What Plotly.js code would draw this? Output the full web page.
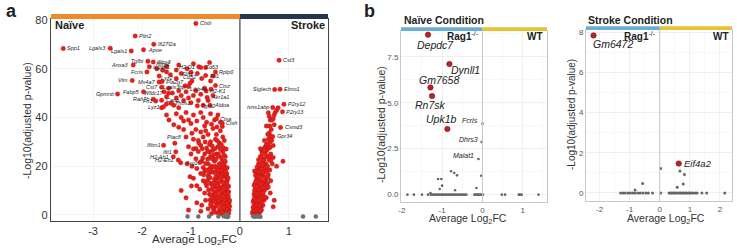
<!DOCTYPE html>
<html><head><meta charset="utf-8">
<script src="https://cdn.plot.ly/plotly-3.0.1.min.js"></script>
<style>html,body{margin:0;padding:0;background:#fff}#chart{width:737px;height:249px}</style>
</head><body><div id="chart"></div>
<script>
// ---------- Panel a : labelled genes (Naive side) ----------
const naiveLabGenes = ['Spp1','Lgals3','Lgals1','Plin2','Ifi27l2a','Apoe','Anxa3','Tgfbi','Ifitm3','Fcrls','Iqgap1','Ifitm2','H2-D1','Cd63','Rplp0','Ftl1','Fth1','Lyz2','Cd52','Lgals3bp','Ctsz','Lilrb4a','H2-K1','Akr1a1','Cst7','Pla2g7','Ms4a7','Vim','Fabp5','Wfdc17','Rab7b','Fn1','Capg','Lyz1','Thbs1','Tgm2','Aldoa','Ctsa','Ctsh','Ifitm1','Plac8','Ifit1','H2-Ab1','H2-Eb1','Arg1','Ctsb','Gpnmb'];
const naiveLabX = [-3.61,-2.65,-2.22,-2.14,-1.76,-1.97,-2.18,-1.88,-1.77,-1.9,-1.85,-1.58,-0.84,-0.8,-0.5,-0.7,-0.87,-1.5,-1.02,-1.05,-0.5,-0.59,-0.69,-0.67,-1.6,-1.59,-1.65,-2.2,-1.97,-1.46,-1.77,-1.72,-1.6,-1.56,-1.41,-0.87,-0.61,-0.48,-0.36,-1.56,-1.33,-1.31,-1.36,-1.26,-1.21,-0.9,-2.5];
const naiveLabY = [68.3,68.4,67.3,73.4,70,67.8,61.5,63.1,62.8,58.7,60.8,59.4,60.8,60.5,58.7,57.2,58,58.8,54,52.7,53.1,51.6,50.9,48.2,52.4,54.7,54.5,55.2,50.5,49.9,47.5,46.7,47.1,44.4,45.8,44.8,45,39.5,37.6,28.6,29.4,25.9,23.9,22.5,21.4,78.6,49.6];

// ---------- Panel a : other significant genes (Naive side) ----------
const naiveRedX = [-1.55,-1.5,-1.45,-1.38,-1.3,-1.25,-1.2,-1.15,-1.1,-1.05,-1.0,-0.95,-0.9,-0.85,-0.8,-0.75,-0.72,-0.65,-0.55,-1.35,-1.25,-1.5,-1.6,-1.12,-0.98,-1.3,-1.42,-1.2,-1.0,-0.78,-0.6,-0.55,-1.65,-1.7,-1.5,-1.25,-1.3,-1.08,-0.95,-0.7,-0.62,
 -1.5,-1.45,-1.3,-1.2,-1.1,-1.05,-0.95,-0.88,-0.8,-0.75,-0.68,-0.6,-0.52,-0.45,-0.4,-1.35,-1.25,-1.15,-1.0,-0.9,-0.8,-0.72,-0.65,-0.55,-0.48,-0.4,-0.35,-1.1,-0.95,-0.85,-0.75,-0.6,-0.5,-0.42,-0.32,
 -1.05,-1.0,-0.95,-0.9,-0.85,-0.8,-0.78,-0.72,-0.68,-0.65,-0.6,-0.56,-0.52,-0.48,-0.45,-0.42,-0.38,-0.35,-0.32,-0.3,-0.28,-0.62,-0.58,-0.5,-0.4,-0.75,-1.08,-0.98,-0.88,
 -0.8,-0.75,-0.72,-0.68,-0.65,-0.62,-0.6,-0.58,-0.55,-0.52,-0.5,-0.48,-0.46,-0.44,-0.42,-0.4,-0.38,-0.36,-0.34,-0.32,-0.3,-0.28,-0.27,-0.26,-0.25,-0.95,-0.88,-0.82,-0.35,-0.29,
 -0.62,-0.58,-0.55,-0.52,-0.5,-0.48,-0.46,-0.44,-0.42,-0.4,-0.38,-0.36,-0.35,-0.33,-0.32,-0.31,-0.3,-0.29,-0.28,-0.27,-0.26,-0.25,-0.24,-0.23,-0.22,-0.22,-0.7,-0.78,-0.65,-0.72,
 -1.2,-1.1,-0.88,-1.05,-0.8,-0.99,-1.02,-0.61,-0.57,-0.53,-0.47,-0.43,-0.37,-0.33,-0.29,-0.27,-0.31,-0.35,-0.39,-0.45,-0.5,-0.54,-0.41,-0.36,-0.3,-0.26,-0.24,-0.28,-0.34,-0.44,
 -0.58,-0.54,-0.5,-0.47,-0.43,-0.39,-0.36,-0.32,-0.29,-0.26,-0.23,-0.21,
 -0.6,-0.56,-0.51,-0.47,-0.43,-0.39,-0.34,-0.31,-0.27,-0.24,-0.21,
 -0.64,-0.59,-0.53,-0.49,-0.45,-0.41,-0.37,-0.33,-0.29,-0.25,-0.23,
 -0.7,-0.66,-0.61,-0.57,-0.53,-0.49,-0.45,-0.41,-0.37,-0.33,-0.3,-0.27,-0.24,
 -0.74,-0.69,-0.63,-0.59,-0.54,-0.5,-0.45,-0.41,-0.37,-0.33,-0.29,-0.26,
 -0.82,-0.76,-0.7,-0.66,-0.62,-0.58,-0.54,-0.49,-0.44,-0.4,-0.36,-0.33,-0.3,
 -0.9,-0.84,-0.77,-0.71,-0.66,-0.57,-0.51,-0.46,-0.38,-0.34,
 -1.15,-0.98,-0.7,-0.58,-0.47,-0.36];
const naiveRedY = [50.5,48.5,52,50,48,51,49,47,50.5,48,46,49,51,47,49.5,45,52,47,49,45,44,45.5,44,53,55,56,57.5,58,58.5,56,55,57,57,60,61,61.5,59.5,60,62,60.5,62.5,
 41,39,41.5,40,42,39,41,38.5,42,40,38,41.5,39,41,38,37,36,35,37.5,35,34,36.5,33,35.5,33,34.5,32,32,31,30.5,32,30,31,29.5,30.5,
 28,25,27,23,26,28.5,22,25,27.5,21,24,26.5,22,25,28,21,23.5,26,20.5,24,27,29,20,20,19.5,19.5,21,20,19,
 17,14,18,12,16,19,13,10.5,17.5,14.5,11.5,19,16,13,10,17,14,11.5,18.5,15.5,12.5,10,17,14,11.5,15,12,10.5,19.5,19,
 8.5,5.5,8,3,6.5,9.5,4.5,7.5,2,5,8.5,3.5,6.5,1.5,9,4.5,7.5,2.5,5.5,8.5,1,3.5,6.5,9.5,2,5,6,4,2.5,9,
 10,7,5,2,1.5,11.9,15.7,6.1,3.5,12,15,7,17,13,9,16,22,4,11,18,14,23,0.8,0.5,1.2,4.2,7.8,13.5,21,25,
 0.6,2.2,1.1,3.8,0.4,2.8,0.9,3.1,0.3,2.4,0.7,3.6,
 4.3,6.9,5.2,7.1,5.9,6.8,5.1,6.2,4.8,7.6,6.0,
 10.2,8.1,9.6,8.3,10.9,8.0,9.9,11.2,8.9,9.0,11.8,
 13.1,14.2,15.3,12.4,13.2,15.7,12.2,14.8,16.2,13.3,16.5,12.6,15.1,
 16.5,18.4,17.1,18.3,19.7,17.4,18.3,19.8,17.9,16.9,17.6,19.4,
 21.5,23.4,21.1,22.9,25.8,23.1,24.7,22.8,24.2,26.8,22.1,24.6,21.9,
 27.3,29.5,27.1,29.9,26.1,28.4,27.2,30.4,28.8,27.6,
 38.5,33.5,34.5,37.2,36.1,36.3];
const naiveGreyX = [-1.07,-0.85,-0.63,-0.44,-0.33,-0.3,-0.28,-0.26,-0.25,-0.24,-0.27,-0.29];
const naiveGreyY = [-0.7,-0.7,-0.7,-0.7,-0.6,-0.5,-0.8,-0.4,-0.9,-0.6,0.2,-0.2];

// ---------- Panel a : Stroke side ----------
const strokeLabGenes = ['Cst3','Siglech','Elmo1','Ivns1abp','P2ry12','P2ry13','Csmd3','Gpr34'];
const strokeLabX = [0.8,0.71,0.82,0.67,0.9,0.87,0.83,0.67];
const strokeLabY = [63.5,51.5,51.6,44.1,45.4,42.3,35.9,32.2];
const strokeRedX = [0.58,0.6,0.62,0.65,0.68,0.7,0.72,0.75,0.78,0.54,0.61,0.64,0.7,
 0.6,0.65,0.62,0.58,0.55,0.52,0.5,0.47,0.55,0.6,0.63,0.57,0.52,0.48,0.45,0.5,0.42,
 0.35,0.38,0.4,0.43,0.46,0.5,0.53,0.56,0.6,0.66,0.75,0.88,0.33,0.36,0.41,0.47,0.52,0.58,
 0.31,0.34,0.37,0.4,0.44,0.48,0.52,0.56,0.63,0.3,0.33,0.36,0.39,0.42,0.46,0.5,0.55,
 0.28,0.3,0.32,0.35,0.38,0.41,0.45,0.49,0.54,0.27,0.29,0.31,0.34,0.37,0.4,0.43,0.47,
 0.26,0.28,0.3,0.32,0.35,0.38,0.41,0.44,0.68,0.27,0.29,0.31,0.33,0.36,0.39,0.3,0.34,0.62,0.7,
 0.26,0.28,0.3,0.32,0.34,0.36,0.38,0.4,0.42,0.44,
 0.27,0.29,0.31,0.33,0.35,0.37,0.39,0.42,0.44,0.47,0.5,
 0.29,0.31,0.33,0.35,0.38,0.41,0.43,0.46,0.49,0.53,0.58,
 0.32,0.34,0.37,0.39,0.42,0.45,0.48,0.51,0.54,0.57,0.61,
 0.38,0.4,0.43,0.46,0.49,0.53,0.56,0.6,0.63,0.68,
 0.42,0.46,0.5,0.54,0.58,0.62,0.65,0.61,0.57,0.68];
const strokeRedY = [41.9,40.5,39,38.9,39.5,41,42,43,44,36.5,36.5,35,37,
 33.6,32,30,31,29,28,30.5,27,26.6,27.5,25,24,25.5,23,26,21,24,
 19.7,21,18.5,20,22,19,21,20,22.5,21,20,22,17,15.5,17,16,18,16.5,
 13,14.5,12,15,13.5,12.5,14,13,14,10,11,9,10.5,11.5,9.5,10,11,
 6,7.5,5,8,6.5,7,8,6,7,3,4,2.5,4.5,3.5,5,3,4,
 0.8,1.5,0.5,2,1,1.8,1.2,2,3.3,0.2,-0.3,0.6,-0.2,0.3,-0.4,18,12,9,6,
 1.2,2.8,1.6,3.6,2.2,4.2,2.6,3.8,1.7,5.3,
 5.4,8.6,6.3,9.1,5.7,8.7,6.1,9.2,7.3,8.8,7.5,
 12.2,10.7,13.8,11.6,13.3,10.8,12.6,11.2,13.9,12.1,11.5,
 16.2,18.1,15.8,17.6,15.4,18.9,17.4,15.7,17.9,15.2,18.4,
 22.6,20.4,23.3,20.6,22.4,23.7,19.8,24.1,22.3,23.6,
 27.2,25.1,26.3,28.7,29.2,27.9,30.6,32.4,33.1,28.5];
const strokeGreyX = [0.27,0.3,0.33,0.36,0.39,0.42,1.29,1.55];
const strokeGreyY = [-0.6,-0.8,-0.5,-0.7,-0.6,-0.8,-0.7,-0.7];

// ---------- Panel b : Naive condition ----------
const bNaiveSigGenes = ['Depdc7','Dynll1','Gm7658','Rn7sk','Upk1b'];
const bNaiveSigX = [-1.35,-0.82,-1.29,-1.25,-0.87];
const bNaiveSigY = [8.7,7.1,5.83,5.36,3.57];
const bNaiveNamedGenes = ['Fcrls','Dhrs3','Malat1'];
const bNaiveNamedX = [0.0,-0.02,-0.1];
const bNaiveNamedY = [3.86,2.86,1.94];
const bNaiveGreyX = [-0.03,-0.78,-0.7,-0.63,-1.1,-1.02,-1.0,-1.06,-0.68,-0.15,-1.29,
 -1.86,-1.7,-1.5,-1.35,-1.28,-1.24,-1.2,-1.16,-1.12,-1.08,-1.04,-1.0,-0.96,-0.92,-0.88,-0.84,-0.8,-0.76,-0.72,-0.68,-0.64,-0.6,-0.56,-0.52,-0.48,-0.44,-0.4,-0.2,-0.17,-0.14,-0.11,-0.08,-0.05,-0.02,0.01,
 0.48,0.56,0.9,0.93,0.97,1.39];
const bNaiveGreyY = [1.03,1.27,1.18,1.05,0.85,0.85,0.49,0.31,0.24,0.36,0.09,
 0,0,0,0,0,0,0,0,0,0,0,0,0,0,0,0,0,0,0,0,0,0,0,0,0,0,0,0,0,0,0,0,0,0,0,
 0,0,0,0,0,0];

// ---------- Panel b : Stroke condition ----------
const bStrokeSigGenes = ['Gm6472','Eif4a2'];
const bStrokeSigX = [-2.2,0.63];
const bStrokeSigY = [7.83,1.46];
const bStrokeGreyX = [0.03,0.67,0.82,-0.57,0.78,0.58,-0.82,
 -1.3,-1.22,-1.15,-1.06,-0.98,-0.9,-0.82,-0.73,-0.65,-0.56,-0.46,-0.38,-0.24,0.03,
 0.31,0.36,0.4,0.45,0.5,0.55,0.6,0.65,0.7,0.75,0.8,0.85,0.9,0.95,1.0,1.05,1.1,1.18,1.24,1.4,1.56,2.16];
const bStrokeGreyY = [1.21,1.09,0.92,0.47,0.44,0.28,0.15,
 0,0,0,0,0,0,0,0,0,0,0,0,0,0,
 0,0,0,0,0,0,0,0,0,0,0,0,0,0,0,0,0,0,0,0,0,0];

// ================= rendering =================
const W = 737, H = 249;
const px = v => v / W, py = v => 1 - v / H;
const FONT = 'Liberation Sans, Arial, sans-serif';
const RED = '#e6201c', GREY = '#6f6f6f', DRED = '#b5242a';

const sideA = {Spp1:'r',Lgals3:'l',Lgals1:'l',Plin2:'r',Ifi27l2a:'r',Apoe:'r',Anxa3:'l',Tgfbi:'l',Ifitm3:'r',Fcrls:'l',Iqgap1:'r',Ifitm2:'t','H2-D1':'l',Cd63:'r',Rplp0:'r',Ftl1:'r',Fth1:'l',Lyz2:'b',Cd52:'t',Lgals3bp:'l',Ctsz:'r',Lilrb4a:'l','H2-K1':'r',Akr1a1:'r',Cst7:'l',Pla2g7:'r',Ms4a7:'l',Vim:'l',Fabp5:'l',Wfdc17:'l',Rab7b:'l',Fn1:'l',Capg:'r',Lyz1:'l',Thbs1:'r',Tgm2:'r',Aldoa:'r',Ctsa:'r',Ctsh:'r',Ifitm1:'l',Plac8:'t',Ifit1:'l','H2-Ab1':'l','H2-Eb1':'l',Arg1:'r',Ctsb:'r',Gpnmb:'l',
  Cst3:'r',Siglech:'l',Elmo1:'r',Ivns1abp:'l',P2ry12:'r',P2ry13:'r',Csmd3:'r',Gpr34:'r'};

function lab(x, y, t, side, xref, yref, size, extra) {
  const a = {x, y, xref, yref, text: '<i>' + t + '</i>', showarrow: false,
    xanchor:'center', yanchor:'middle', font: {size, color: '#222', family: FONT}};
  if (side === 'l') { a.xanchor = 'right'; a.xshift = -2; }
  else if (side === 'r') { a.xanchor = 'left'; a.xshift = 2; }
  else if (side === 't') { a.yanchor = 'bottom'; a.yshift = 1; }
  else if (side === 'b') { a.yanchor = 'top'; a.yshift = -1; }
  return Object.assign(a, extra || {});
}

const mk = (c) => ({size:4.5, color:c, line:{width:0.3,color:'#a51512'}});
const traces = [
  {x: naiveRedX, y: naiveRedY, xaxis:'x', yaxis:'y', mode:'markers', type:'scatter', marker:mk(RED)},
  {x: naiveLabX, y: naiveLabY, xaxis:'x', yaxis:'y', mode:'markers', type:'scatter', marker:mk(RED)},
  {x: strokeRedX, y: strokeRedY, xaxis:'x', yaxis:'y', mode:'markers', type:'scatter', marker:mk(RED)},
  {x: strokeLabX, y: strokeLabY, xaxis:'x', yaxis:'y', mode:'markers', type:'scatter', marker:mk(RED)},
  {x: naiveGreyX, y: naiveGreyY, xaxis:'x', yaxis:'y', mode:'markers', type:'scatter', marker:{size:4.5, color:GREY}},
  {x: strokeGreyX, y: strokeGreyY, xaxis:'x', yaxis:'y', mode:'markers', type:'scatter', marker:{size:4.5, color:GREY}},
  {x: bNaiveGreyX, y: bNaiveGreyY, xaxis:'x2', yaxis:'y2', mode:'markers', type:'scatter', marker:{size:2.6, color:'#666'}},
  {x: bNaiveNamedX, y: bNaiveNamedY, xaxis:'x2', yaxis:'y2', mode:'markers', type:'scatter', marker:{size:2.6, color:'#666'}},
  {x: bNaiveSigX, y: bNaiveSigY, xaxis:'x2', yaxis:'y2', mode:'markers', type:'scatter', marker:{size:5.5, color:DRED, line:{width:0.5,color:'#7a1015'}}},
  {x: bStrokeGreyX, y: bStrokeGreyY, xaxis:'x3', yaxis:'y3', mode:'markers', type:'scatter', marker:{size:3, color:'#666'}},
  {x: bStrokeSigX, y: bStrokeSigY, xaxis:'x3', yaxis:'y3', mode:'markers', type:'scatter', marker:{size:5.5, color:DRED, line:{width:0.5,color:'#7a1015'}}}
];

const ann = [];
naiveLabGenes.forEach((g,i)=>ann.push(lab(naiveLabX[i], naiveLabY[i], g, sideA[g], 'x','y',5.5)));
strokeLabGenes.forEach((g,i)=>ann.push(lab(strokeLabX[i], strokeLabY[i], g, sideA[g], 'x','y',5.5)));
const sideB = {Depdc7:{yanchor:'top',yshift:-2,xshift:7}, Dynll1:{yanchor:'middle',xanchor:'left',yshift:-6,xshift:0}, Gm7658:{yanchor:'middle',yshift:7,xshift:9}, Rn7sk:{yanchor:'top',yshift:-1,xshift:-2}, Upk1b:{yanchor:'bottom',yshift:2,xshift:-6},
  Gm6472:{yanchor:'top',xanchor:'left',yshift:-1,xshift:-3}, Eif4a2:{xanchor:'left',xshift:3}};
bNaiveSigGenes.forEach((g,i)=>ann.push(lab(bNaiveSigX[i], bNaiveSigY[i], g, null, 'x2','y2',10.5, sideB[g])));
bNaiveNamedGenes.forEach((g,i)=>ann.push(lab(bNaiveNamedX[i], bNaiveNamedY[i], g, 'l', 'x2','y2',7, {yshift:3})));
bStrokeSigGenes.forEach((g,i)=>ann.push(lab(bStrokeSigX[i], bStrokeSigY[i], g, null, 'x3','y3',g==='Gm6472'?10.5:9.5, sideB[g])));

function txt(t, x, y, size, opts) {
  return Object.assign({xref:'paper', yref:'paper', x:px(x), y:py(y), text:t, showarrow:false,
    xanchor:'center', yanchor:'middle', font:{size, color:'#222', family:FONT}}, opts || {});
}
ann.push(txt('<b>a</b>', 4, 11, 18, {xanchor:'left'}));
ann.push(txt('<b>b</b>', 362, 11, 18, {xanchor:'left'}));
ann.push(txt('<b>Naïve</b>', 53, 25, 11, {xanchor:'left'}));
ann.push(txt('<b>Stroke</b>', 327, 25, 11, {xanchor:'right'}));
ann.push(txt('-Log10(adjusted p-value)', 27, 121, 10.5, {textangle:-90, font:{size:10.5,color:'#333',family:FONT}}));
ann.push(txt('Average Log<sub>2</sub>FC', 194, 240, 11.5, {font:{size:11.5,color:'#333',family:FONT}}));
ann.push(txt('<b>Naïve Condition</b>', 402, 20, 10.5, {xanchor:'left'}));
ann.push(txt('<b>Stroke Condition</b>', 586, 20, 10.5, {xanchor:'left'}));
ann.push(txt('<b>Rag1</b><sup>-/-</sup>', 481, 36, 10, {xanchor:'right'}));
ann.push(txt('<b>WT</b>', 545, 36, 10, {xanchor:'right'}));
ann.push(txt('<b>Rag1</b><sup>-/-</sup>', 658, 36, 10, {xanchor:'right'}));
ann.push(txt('<b>WT</b>', 731, 36, 10, {xanchor:'right'}));
ann.push(txt('-Log10(adjusted p-value)', 381, 125, 10.5, {textangle:-90, font:{size:10.5,color:'#333',family:FONT}}));
ann.push(txt('-Log10(adjusted p-value)', 572, 115, 10, {textangle:-90, font:{size:10,color:'#333',family:FONT}}));
ann.push(txt('Average Log<sub>2</sub>FC', 468, 219, 10.5, {font:{size:10.5,color:'#333',family:FONT}}));
ann.push(txt('Average Log<sub>2</sub>FC', 666, 219, 10.5, {font:{size:10.5,color:'#333',family:FONT}}));

const axA = {showline:true, mirror:true, linecolor:'#444', linewidth:1.2, zeroline:false, ticks:'', showgrid:true, gridcolor:'#ececec', gridwidth:0.6, tickfont:{size:11,color:'#333',family:FONT}};
const axB = {showline:true, mirror:true, linecolor:'#c8c8c8', linewidth:1, zeroline:false, ticks:'', showgrid:true, gridcolor:'#e6e6e6', gridwidth:0.6, tickfont:{size:8,color:'#555',family:FONT}};

const layout = {
  width:W, height:H, margin:{l:0,r:0,t:0,b:0}, showlegend:false,
  paper_bgcolor:'#fff', plot_bgcolor:'#fff', font:{family:FONT},
  xaxis: Object.assign({}, axA, {domain:[px(51),px(328)], range:[-3.86,1.8], tickvals:[-3,-2,-1,0,1], ticktext:['-3','-2','-1','0','1']}),
  yaxis: Object.assign({}, axA, {domain:[py(221),py(19)], range:[-2.5,80.4], tickvals:[0,20,40,60,80]}),
  xaxis2: Object.assign({}, axB, {anchor:'y2', domain:[px(401),px(547)], range:[-2.02,1.6], tickvals:[-2,-1,0,1], ticktext:['-2','-1','0','1'], minor:{tickvals:[-1.5,-0.5,0.5,1.5], showgrid:true, gridcolor:'#f2f2f2'}}),
  yaxis2: Object.assign({}, axB, {anchor:'x2', domain:[py(202),py(31)], range:[-0.4,8.9], tickvals:[0,2.5,5,7.5], ticktext:['0.0','2.5','5.0','7.5'], minor:{tickvals:[1.25,3.75,6.25,8.75], showgrid:true, gridcolor:'#f2f2f2'}}),
  xaxis3: Object.assign({}, axB, {anchor:'y3', domain:[px(586),px(732)], range:[-2.45,2.4], tickvals:[-2,-1,0,1,2], ticktext:['-2','-1','0','1','2'], minor:{tickvals:[-1.5,-0.5,0.5,1.5], showgrid:true, gridcolor:'#f2f2f2'}}),
  yaxis3: Object.assign({}, axB, {anchor:'x3', domain:[py(201),py(30)], range:[-0.4,8.1], tickvals:[0,2,4,6,8], minor:{tickvals:[1,3,5,7], showgrid:true, gridcolor:'#f2f2f2'}}),
  shapes: [
    {type:'rect', xref:'x', yref:'y domain', x0:-3.86, x1:0, y0:1, y1:1.025, fillcolor:'#ef8a2a', line:{width:0}},
    {type:'rect', xref:'x', yref:'y domain', x0:0, x1:1.8, y0:1, y1:1.025, fillcolor:'#243550', line:{width:0}},
    {type:'line', xref:'x', yref:'y domain', x0:0, x1:0, y0:0, y1:1, line:{color:'#444', width:1.2}},
    {type:'rect', xref:'x2', yref:'y2 domain', x0:-2.02, x1:0, y0:1, y1:1.022, fillcolor:'#6aaed8', line:{width:0}},
    {type:'rect', xref:'x2', yref:'y2 domain', x0:0, x1:1.6, y0:1, y1:1.022, fillcolor:'#e8c234', line:{width:0}},
    {type:'line', xref:'x2', yref:'y2 domain', x0:0, x1:0, y0:0, y1:1, line:{color:'#c8c8c8', width:1}},
    {type:'rect', xref:'x3', yref:'y3 domain', x0:-2.45, x1:0, y0:1, y1:1.022, fillcolor:'#6aaed8', line:{width:0}},
    {type:'rect', xref:'x3', yref:'y3 domain', x0:0, x1:2.4, y0:1, y1:1.022, fillcolor:'#e8c234', line:{width:0}},
    {type:'line', xref:'x3', yref:'y3 domain', x0:0, x1:0, y0:0, y1:1, line:{color:'#c8c8c8', width:1}}
  ],
  annotations: ann
};
Plotly.newPlot('chart', traces, layout, {staticPlot:true, displayModeBar:false});
</script>
</body></html>
